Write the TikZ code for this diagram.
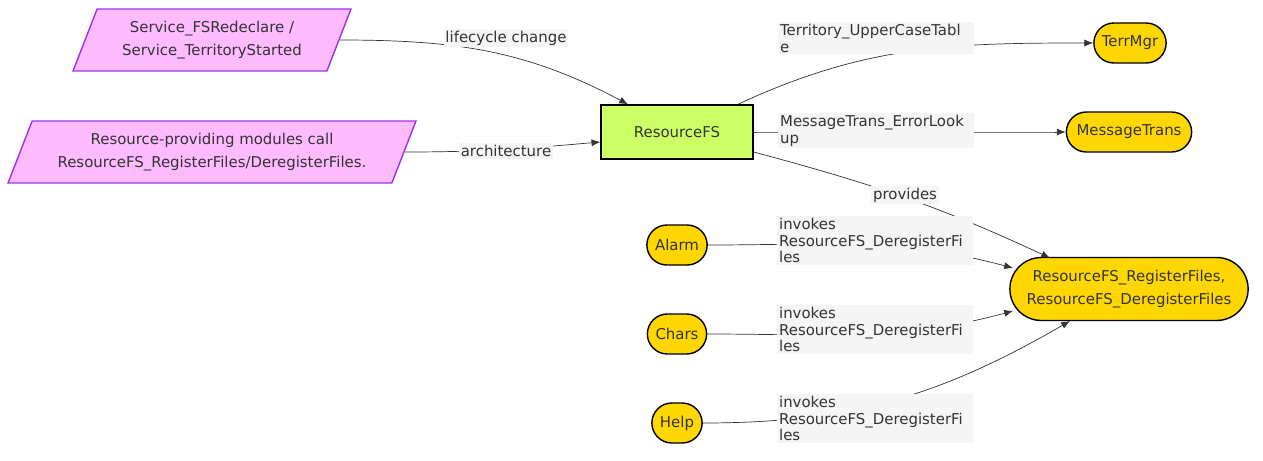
\documentclass[tikz,border=0pt]{standalone}
\usepackage{fontspec}
\setmainfont{DejaVu Sans}
\usetikzlibrary{shapes.geometric,arrows.meta}
\definecolor{evtfill}{HTML}{FFBBFF}
\definecolor{evtline}{HTML}{A030F0}
\definecolor{mainfill}{HTML}{CCFF66}
\definecolor{modfill}{HTML}{FFD700}
\definecolor{lblfill}{HTML}{F5F5F5}
\definecolor{ink}{HTML}{333333}
\tikzset{
  evt/.style={trapezium, trapezium left angle=64, trapezium right angle=116,
    trapezium stretches body, draw=evtline, fill=evtfill, thick, text=ink,
    align=center, minimum height=1.24cm},
  mainbox/.style={rectangle, draw=black, fill=mainfill, thick, text=ink,
    minimum width=3.04cm, minimum height=1.08cm},
  mod/.style={rounded rectangle, draw=black, fill=modfill, thick, text=ink,
    minimum height=0.8cm, align=center},
  lbl/.style={fill=lblfill, text=ink, inner sep=1pt, font=\fontsize{8.5}{9.5}\selectfont},
  blk/.style={lbl, align=left, text width=3.85cm, anchor=north west},
  link/.style={draw=ink, -{Latex[length=5pt,width=4pt]}},
}
\usetikzlibrary{shapes.misc}
\begin{document}
\begin{tikzpicture}[x=0.02cm,y=-0.02cm,font=\fontsize{8.5}{13}\selectfont]
  \useasboundingbox (0,0) rectangle (1263,460);
  % events
  \node[evt, minimum width=5.56cm] (svc) at (212,40) {Service\_FSRedeclare /\\Service\_TerritoryStarted};
  \node[evt, minimum width=8.16cm] (res) at (212,152) {Resource-providing modules call\\ResourceFS\_RegisterFiles/DeregisterFiles.};
  % core
  \node[mainbox] (rfs) at (677,132) {ResourceFS};
  % modules
  \node[mod, minimum width=1.68cm] (terr) at (1130,43) {TerrMgr};
  \node[mod, minimum width=2.74cm] (msg) at (1129,132) {MessageTrans};
  \node[mod, minimum width=5cm, minimum height=1.26cm] (reg) at (1129,289) {ResourceFS\_RegisterFiles,\\ResourceFS\_DeregisterFiles};
  \node[mod, minimum width=1.44cm] (alarm) at (677,245) {Alarm};
  \node[mod, minimum width=1.42cm] (chars) at (677,334) {Chars};
  \node[mod, minimum width=1.24cm] (help) at (677,423) {Help};
  % connectors
  \draw[link] (svc.east) to[out=0,in=152] (rfs.north west -| 628,105);
  \draw[link] (res.east) to[out=0,in=185] (rfs.west |- 0,142);
  \draw[link] (rfs.north east -| 738,105) to[out=25,in=180] (terr.west);
  \draw[link] (rfs.east) to[out=0,in=180] (msg.west);
  \draw[link] (rfs.east |- 0,152) to[out=-15,in=155] (1050,258);
  \draw[link] (alarm.east) to[out=0,in=165] (1013,268);
  \draw[link] (chars.east) to[out=0,in=195] (1013,311);
  \draw[link] (help.east) to[out=0,in=210] (1070,321);
  % labels
  \node[lbl] (l1) at (506,38) {lifecycle change};
  \node[lbl] (l2) at (506,151) {architecture};
  \node[lbl] (l3) at (905,195) {provides};
  \node[blk] (l4) at (778,22) {Territory\_UpperCaseTabl\\e};
  \node[blk] (l5) at (778,113) {MessageTrans\_ErrorLook\\up};
  \node[blk] (l6) at (777,216) {invokes\\ResourceFS\_DeregisterFi\\les};
  \node[blk] (l7) at (777,305) {invokes\\ResourceFS\_DeregisterFi\\les};
  \node[blk] (l8) at (777,394) {invokes\\ResourceFS\_DeregisterFi\\les};
\end{tikzpicture}
\end{document}
